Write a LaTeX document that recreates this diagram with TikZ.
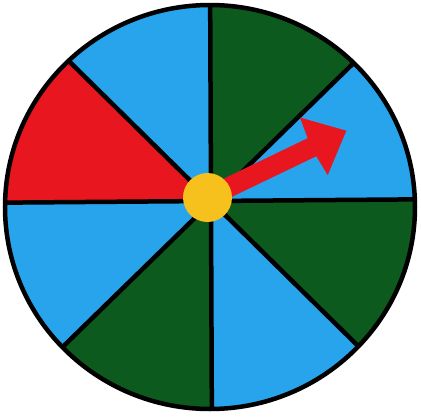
\documentclass[tikz,border=0pt]{standalone}
\usetikzlibrary{calc}
\definecolor{spinblue}{HTML}{27A4EC}
\definecolor{spingreen}{HTML}{0C5A1D}
\definecolor{spinred}{HTML}{E8161E}
\definecolor{spinyellow}{HTML}{F6C11C}
\tikzset{
  spoke/.style={line width=4.5pt, black},
  rim/.style={line width=4.5pt, black},
  hubstyle/.style={circle, fill=spinyellow, minimum size=49pt, inner sep=0pt},
  pointer/.style={fill=spinred}
}
\begin{document}
\begin{tikzpicture}[x=1pt,y=-1pt]
\useasboundingbox (0,0) rectangle (421,418);
% key points
\coordinate (O) at (210.5,201);
\coordinate (T) at (210,-40);
\coordinate (B) at (212,450);
\coordinate (L) at (-40,203);
\coordinate (R) at (460,199);
\coordinate (TL0) at (71.7,64);
\coordinate (TR0) at (353,63);
\coordinate (BL0) at (64,345);
\coordinate (BR0) at (361,349);
\coordinate (TL) at ($(O)!1.6!(TL0)$);
\coordinate (TR) at ($(O)!1.6!(TR0)$);
\coordinate (BL) at ($(O)!1.6!(BL0)$);
\coordinate (BR) at ($(O)!1.6!(BR0)$);
\begin{scope}
  \clip (210,207) ellipse [x radius=205, y radius=202];
  \fill[spingreen] (O) -- (T) -- (TR) -- cycle;
  \fill[spinblue] (O) -- (TR) -- (R) -- cycle;
  \fill[spingreen] (O) -- (R) -- (BR) -- cycle;
  \fill[spinblue] (O) -- (BR) -- (B) -- cycle;
  \fill[spingreen] (O) -- (B) -- (BL) -- cycle;
  \fill[spinblue] (O) -- (BL) -- (L) -- cycle;
  \fill[spinred] (O) -- (L) -- (TL) -- cycle;
  \fill[spinblue] (O) -- (TL) -- (T) -- cycle;
  \draw[spoke] (T) -- (B);
  \draw[spoke] (L) -- (R);
  \draw[spoke] (TL) -- (BR);
  \draw[spoke] (TR) -- (BL);
\end{scope}
\draw[rim] (210,207) ellipse [x radius=205, y radius=202];
% pointer
\fill[pointer] (203.2,188.5) -- (307.7,138.2) -- (299.9,117.5) -- (346.3,130.7)
  -- (327.7,175.1) -- (316.3,156.2) -- (211.8,206.5) -- cycle;
\node[hubstyle] (hub) at (207.5,197.5) {};
\end{tikzpicture}
\end{document}
